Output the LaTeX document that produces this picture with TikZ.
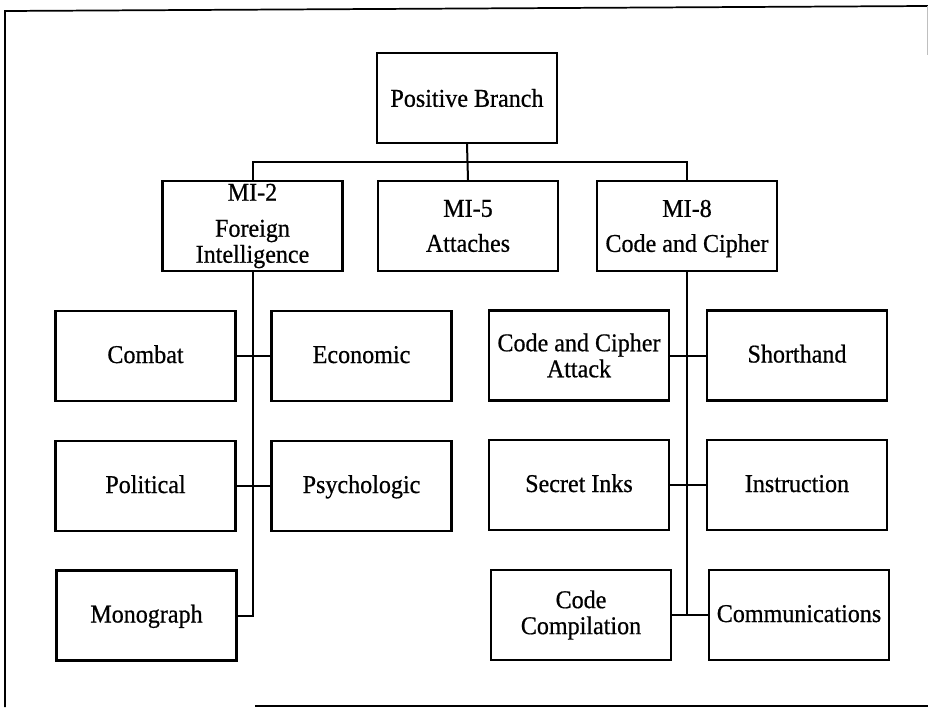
\documentclass[tikz,border=0pt]{standalone}
\usepackage{fontspec}
\setmainfont{Liberation Serif}
\newfontfamily\boxfont{Liberation Serif}[FakeBold=0.6,FakeStretch=0.94]
\usetikzlibrary{calc}
\begin{document}
\begin{tikzpicture}[x=0.75pt,y=-0.75pt,
  box/.style={draw, line width=1.8pt, rectangle, minimum width=135pt, minimum height=67.5pt,
    inner sep=0pt, align=center, font=\boxfont\fontsize{19.2}{19.5}\selectfont},
  one/.style={text height=14pt, text depth=3.5pt},
  link/.style={line width=1.5pt},
  framel/.style={line width=1.3pt}]
\useasboundingbox (0,0) rectangle (928,707);
% outer frame (partial, as scanned)
\draw[framel] (5,707) -- (5,11) -- (928,6);
\draw[framel, gray!50, line width=0.6pt] (927,6) -- (927,55);
\draw[framel] (255,706) -- (928,706);
% nodes
\node[box] (pb) at (467,98) {Positive Branch};
\node[box] (mi2) at (252.5,226) {MI-2\\[7.5pt]Foreign\\Intelligence};
\node[box] (mi5) at (468,226) {MI-5\\[6.75pt]Attaches};
\node[box] (mi8) at (687,226) {MI-8\\[6.75pt]Code and Ci\smash{p}her};
\node[box,one] (combat) at (145.5,356) {Combat};
\node[box,one] (econ) at (361.5,356) {Economic};
\node[box,one] (pol) at (145.5,486) {Political};
\node[box,one] (psy) at (361.5,486) {Psychologic};
\node[box,one] (mono) at (146.5,615.5) {Monograph};
\node[box] (cca) at (579,355.5) {Code and Cipher\\Attack};
\node[box,one] (short) at (797,355.5) {Shorthand};
\node[box,one] (ink) at (579,485) {Secret Inks};
\node[box,one] (instr) at (797,485) {Instruction};
\node[box] (comp) at (581,615) {Code\\Compilation};
\node[box,one] (comm) at (799,615) {Communications};
% connectors
\coordinate (bar) at ($(pb.south)!0.5!(mi5.north)$);
\draw[link] (pb.south) -- (mi5.north);
\draw[link] (mi2.north) |- (bar) -| (mi8.north);
\draw[link] (mi2.south) -- (mi2.south |- mono.east) -- (mono.east);
\draw[link] (combat.east) -- (econ.west);
\draw[link] (pol.east) -- (psy.west);
\draw[link] (mi8.south) -- (mi8.south |- comp.east);
\draw[link] (cca.east) -- (short.west);
\draw[link] (ink.east) -- (instr.west);
\draw[link] (comp.east) -- (comm.west);
\end{tikzpicture}
\end{document}
